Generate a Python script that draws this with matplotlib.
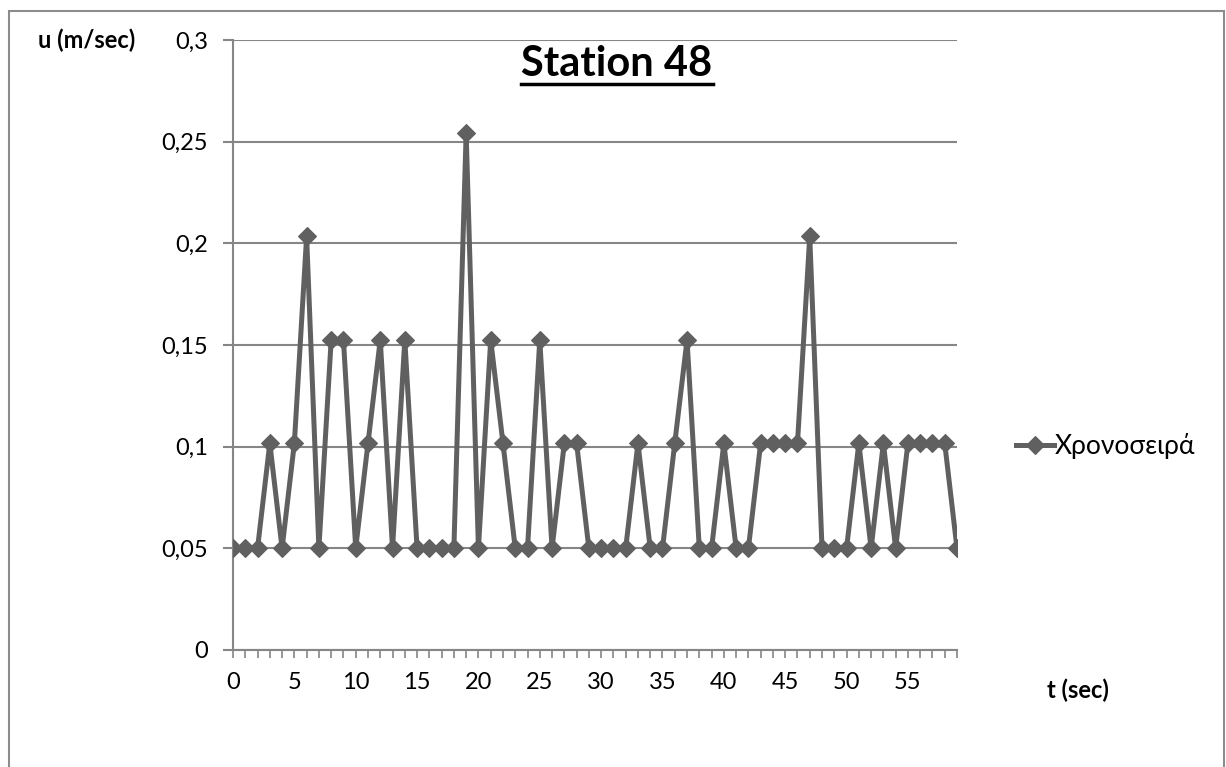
import numpy as np
import matplotlib.pyplot as plt
from matplotlib.patches import Rectangle
from matplotlib.lines import Line2D

plt.rcParams['font.family'] = ['Lato', 'Open Sans', 'DejaVu Sans']

# time series of flow velocity at the station
t = list(range(60))
u = [0.05, 0.05, 0.05, 0.1017, 0.05, 0.1017, 0.2034, 0.05, 0.1525, 0.1525,
     0.05, 0.1017, 0.1525, 0.05, 0.1525, 0.05, 0.05, 0.05, 0.05, 0.2542,
     0.05, 0.1525, 0.1017, 0.05, 0.05, 0.1525, 0.05, 0.1017, 0.1017, 0.05,
     0.05, 0.05, 0.05, 0.1017, 0.05, 0.05, 0.1017, 0.1525, 0.05, 0.05,
     0.1017, 0.05, 0.05, 0.1017, 0.1017, 0.1017, 0.1017, 0.2034, 0.05, 0.05,
     0.05, 0.1017, 0.05, 0.1017, 0.05, 0.1017, 0.1017, 0.1017, 0.1017, 0.05]
y_ticks = [0, 0.05, 0.1, 0.15, 0.2, 0.25, 0.3]
y_labels = ['0', '0,05', '0,1', '0,15', '0,2', '0,25', '0,3']
x_labels = [str(v) if v % 5 == 0 else '' for v in t]

W, H = 1226, 767
fig = plt.figure(figsize=(W / 100, H / 100), dpi=100)
fig.patch.set_facecolor('white')

# outer chart border
fig.patches.append(Rectangle((9 / W, -0.05), 1215 / W, 1.05 - 11 / H,
                             transform=fig.transFigure, fill=False,
                             edgecolor='#8c8c8c', lw=1.5))

ax = fig.add_axes([233 / W, 1 - 650 / H, 724 / W, 610 / H])
grey = '#868686'
line_c = '#606060'

ax.plot(t, u, color=line_c, lw=3.6, marker='D', markersize=9.5,
        markeredgewidth=0.8, markeredgecolor=line_c, label='Χρονοσειρά',
        zorder=3)

ax.set_xlim(0, 59)
ax.set_ylim(0, 0.3)
ax.set_yticks(y_ticks)
ax.set_yticklabels(y_labels)
ax.set_xticks(t)
ax.set_xticklabels(x_labels)
ax.yaxis.grid(True, color=grey, lw=1.5)
ax.set_axisbelow(True)

for s in ['top', 'right']:
    ax.spines[s].set_visible(False)
for s in ['left', 'bottom']:
    ax.spines[s].set_color(grey)
    ax.spines[s].set_linewidth(1.5)
ax.tick_params(axis='y', length=7, width=1.5, color=grey, labelsize=17, pad=11)
ax.tick_params(axis='x', length=6, width=1.2, color=grey, labelsize=17, pad=10)

# underlined title
title = fig.text(617 / W, 1 - 64 / H, 'Station 48', fontsize=30,
                 fontweight='bold', ha='center', va='center')
fig.canvas.draw()
bb = title.get_window_extent(fig.canvas.get_renderer())
uy = (bb.y0 - 1) / H
fig.lines.append(Line2D([bb.x0 / W, bb.x1 / W], [uy, uy],
                        transform=fig.transFigure, color='black', lw=2.5))

fig.text(87 / W, 1 - 40 / H, 'u (m/sec)', fontsize=17, fontweight='bold',
         ha='center', va='center')
fig.text(1078 / W, 1 - 690 / H, 't (sec)', fontsize=17, fontweight='bold',
         ha='center', va='center')

ax.legend(loc='center left', bbox_to_anchor=(1003 / W, 1 - 446 / H),
          bbox_transform=fig.transFigure, frameon=False, fontsize=19,
          handlelength=1.45, handletextpad=0.0, borderpad=0)

fig.savefig('out.png', dpi=100)
